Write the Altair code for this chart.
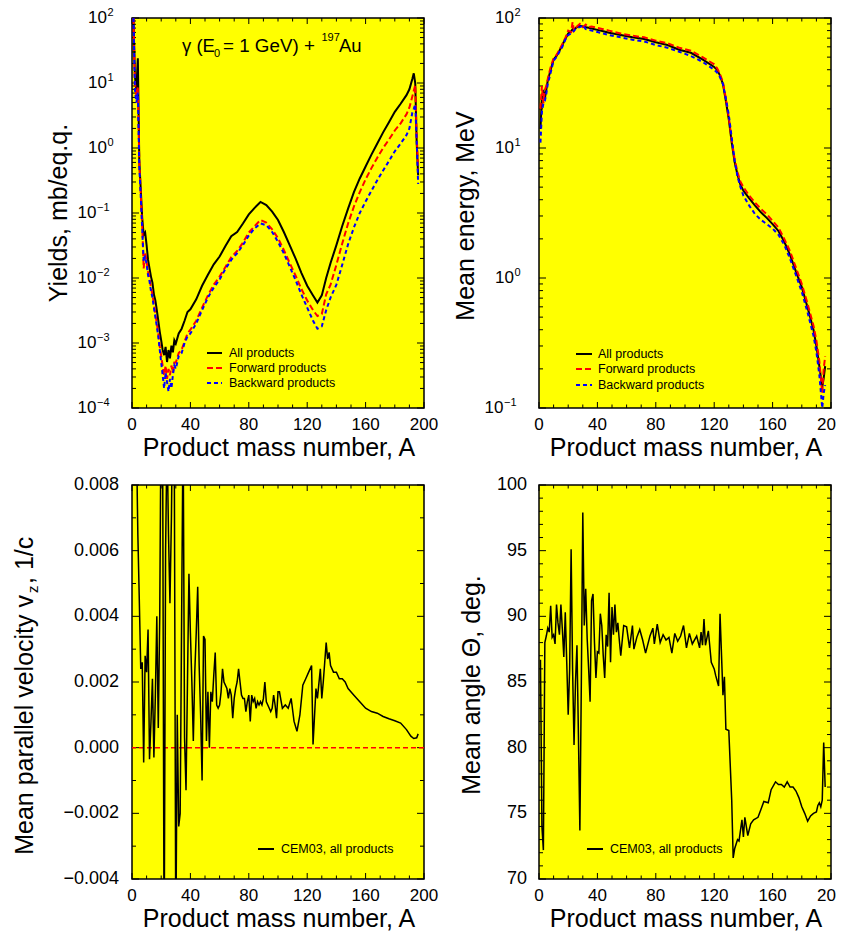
import altair as alt
import pandas as pd

FONT = "Liberation Sans"
W = 292
H_TOP, H_BOT = 390, 394

# ---------------- Panel 1: yields (mb/eq.q.) ----------------
A_YIELD = [1, 2, 3, 4, 5, 6, 7, 8, 9, 10, 11, 12, 13, 14, 15, 16, 17, 18, 19, 20,
           21, 22, 23, 24, 25, 26, 27, 28, 29, 30, 32, 34, 36, 38, 40,
           44, 48, 52, 56, 60, 64, 68, 72, 76, 80, 84, 88, 92, 96, 100, 104, 108, 112, 116, 120, 124,
           127, 130, 133, 136,
           140, 144, 148, 152, 156, 160, 164, 168, 172, 176, 180, 184, 188,
           190, 192, 193, 194, 195, 196]
YIELD_ALL = [100, 12.6, 7.9, 24, 0.63, 0.23, 0.083, 0.046, 0.050, 0.032,
             0.019, 0.014, 0.0105, 0.0085, 0.0056, 0.0045, 0.0032, 0.0022, 0.0015, 0.0011,
             0.00078, 0.00065, 0.00087, 0.00051, 0.00078, 0.00058, 0.00091, 0.00072, 0.0011, 0.00098,
             0.0014, 0.00166, 0.0022, 0.0030, 0.0033,
             0.0047, 0.0076, 0.0112, 0.0162, 0.0214, 0.031, 0.044, 0.051, 0.069, 0.095, 0.12, 0.148,
             0.132, 0.105, 0.078, 0.051, 0.032, 0.020, 0.012, 0.0076, 0.0054,
             0.0042, 0.0054, 0.010, 0.017,
             0.032, 0.063, 0.117, 0.21, 0.34, 0.52, 0.79, 1.17, 1.74, 2.5, 3.6, 4.8, 6.5,
             8.0, 11.5, 14.1, 10, 1.2, 0.38]
YIELD_FWD = [100, 10, 6.3, 8.9, 0.63, 0.2, 0.063, 0.014, 0.025, 0.018,
             0.0126, 0.010, 0.0071, 0.0056, 0.004, 0.0028, 0.002, 0.0014, 0.00089, 0.00063,
             0.00045, 0.00032, 0.00045, 0.00028, 0.0004, 0.00032, 0.00045, 0.00035, 0.0005, 0.0005,
             0.0007, 0.00079, 0.00105, 0.0014, 0.0016,
             0.0022, 0.0035, 0.0054, 0.0079, 0.0105, 0.0148, 0.021, 0.026, 0.035, 0.05, 0.063, 0.078,
             0.071, 0.056, 0.041, 0.027, 0.017, 0.011, 0.0068, 0.0045, 0.0032,
             0.0026, 0.0028, 0.0056, 0.0079,
             0.016, 0.034, 0.069, 0.126, 0.21, 0.33, 0.49, 0.71, 1.0, 1.35, 1.86, 2.4, 3.3,
             4.2, 6.2, 7.6, 9.3, 1.5, 0.48]
YIELD_BWD = [100, 7.9, 5, 7.1, 0.5, 0.18, 0.056, 0.018, 0.022, 0.016,
             0.011, 0.0089, 0.0063, 0.005, 0.0035, 0.0025, 0.0018, 0.00126, 0.00079, 0.0005,
             0.00032, 0.0002, 0.00035, 0.00025, 0.00018, 0.00028, 0.0002, 0.00032, 0.00045, 0.0004,
             0.00063, 0.0007, 0.001, 0.00126, 0.0014,
             0.002, 0.0032, 0.005, 0.0071, 0.0095, 0.0138, 0.019, 0.024, 0.032, 0.045, 0.058, 0.069,
             0.065, 0.051, 0.036, 0.024, 0.015, 0.0093, 0.0056, 0.0035, 0.0022,
             0.00166, 0.0018, 0.0032, 0.005,
             0.0079, 0.016, 0.033, 0.06, 0.1, 0.15, 0.22, 0.32, 0.45, 0.63, 0.89, 1.17, 1.58,
             2.0, 3.5, 4.0, 4.7, 1.26, 0.28]

# ---------------- Panel 2: mean energy (MeV) ----------------
A_ENERGY = [1, 2, 3, 4, 5, 6, 8, 10, 12, 14, 16, 18, 20, 22, 23, 24, 26, 28, 30, 32, 34, 36,
            40, 44, 48, 56, 64, 72, 80, 88, 96, 104, 112, 120,
            122, 124, 126, 128, 130, 132, 134, 136, 138, 140,
            144, 148, 152, 156, 160, 164, 168, 172, 176, 180, 184, 188,
            190, 192, 194, 195, 196]
ENERGY_ALL = [14, 25, 28, 24, 28, 33, 40, 48, 51, 56, 62, 69, 76, 79, 82, 82, 85, 87, 86, 85, 84, 83,
              81, 79, 77, 74, 71, 69, 65, 62, 57, 54, 48, 42,
              40, 36, 31, 23, 16.6, 11, 7.8, 6.2, 5.2, 4.7,
              4.1, 3.6, 3.2, 2.9, 2.6, 2.3, 1.9, 1.5, 1.12, 0.85, 0.59, 0.40,
              0.30, 0.21, 0.145, 0.17, 0.21]
ENERGY_FWD = [20, 30, 22, 28, 30, 34, 42, 49, 52, 57, 63, 70, 80, 78, 93, 80, 86, 90, 85, 89, 85, 86,
              84, 82, 80, 76, 73, 71, 67, 64, 59, 56, 50, 44,
              41, 37, 32, 24, 17, 11.5, 8.2, 6.5, 5.5, 5.0,
              4.3, 3.8, 3.4, 3.1, 2.75, 2.45, 2.0, 1.6, 1.2, 0.9, 0.63, 0.43,
              0.33, 0.23, 0.13, 0.2, 0.25]
ENERGY_BWD = [11, 19, 22, 23, 26, 31, 38, 47, 50, 55, 60, 68, 74, 76, 77, 80, 84, 85, 88, 82, 81, 80,
              78, 76, 74, 71, 68, 66, 62, 59, 55, 51, 46, 40,
              38, 35, 31, 24, 18, 12, 8, 6, 5, 4.3,
              3.6, 3.1, 2.8, 2.6, 2.4, 2.15, 1.8, 1.4, 1.05, 0.78, 0.54, 0.36,
              0.27, 0.18, 0.1, 0.13, 0.15]

# ---------------- Panel 3: mean parallel velocity (1/c) ----------------
A_VEL = [3, 4, 5, 6, 7, 8, 9, 10, 11, 12, 13, 14, 15, 16, 17, 18, 19, 20, 21, 22, 23, 24, 25, 26, 27,
         28, 29, 30, 31, 32, 33, 34, 35, 36, 37, 38, 39, 40, 41, 42, 43, 44, 45, 46, 47, 48, 49, 50,
         51, 52, 53, 54, 55, 56, 57, 58, 59, 60,
         61, 62, 63, 64, 65, 66, 67, 68, 69, 70, 71, 72, 73, 74, 75, 76, 77, 78, 79, 80,
         81, 82, 83, 84, 85, 86, 87, 88, 89, 90, 91, 92, 93, 94, 95, 96, 97, 98, 99, 100,
         101, 103, 105, 107, 109, 111, 113, 115, 117,
         119, 121, 123, 124, 126, 127, 129, 130, 131, 133,
         134, 135, 136, 138, 140, 142, 144, 146, 148, 152, 156, 160, 164, 168, 172, 176, 180, 184,
         188, 191, 193, 195, 196]
VELOCITY = [0.0095, 0.0065, 0.0045, 0.0024, 0.0026, -0.00045, 0.0028, 0.0023, 0.0036, -0.00035,
            0.0008, 0.0021, -0.0003, 0.0016, 0.0040, 0.0006, 0.0040, 0.0110, 0.0090, -0.0065,
            0.0060, 0.0095, 0.0065, 0.0044, 0.0070, 0.0110, 0.0085, -0.0060, 0.0010, -0.0024,
            -0.0020, 0.0040, 0.0100, 0.0003, -0.0013, 0.0020, 0.0053, 0.0035, 0.0020, 0.0002,
            0.0023, 0.0035, 0.0049, 0.0025, 0.0010, -0.0010, 0.0034, 0.0033, 0.0002, 0.0017,
            0.0000, 0.0017, 0.0014, 0.0022, 0.0029, 0.0013, 0.0012, 0.0013,
            # A = 61 .. 80
            0.0017, 0.0024, 0.0020, 0.0019, 0.0018, 0.0015, 0.0018, 0.0016, 0.0009, 0.0015,
            0.0018, 0.0020, 0.0024, 0.0020, 0.0016, 0.0015, 0.0015, 0.0011, 0.0014, 0.0016,
            # A = 81 .. 100
            0.0008, 0.0016, 0.0014, 0.0015, 0.0012, 0.0014, 0.0013, 0.0014, 0.0013, 0.0015,
            0.0020, 0.0014, 0.0013, 0.0012, 0.0011, 0.0012, 0.0016, 0.0013, 0.0009, 0.0017,
            # A = 101 .. 117
            0.0017, 0.0012, 0.0013, 0.0012, 0.0015, 0.0008, 0.0005, 0.0010, 0.0019,
            # A = 119 .. 133
            0.0021, 0.0023, 0.0025, 0.0001, 0.0018, 0.0015, 0.0024, 0.0015, 0.0020, 0.0032,
            # A = 134 .. 196
            0.0027, 0.0029, 0.0025, 0.0023, 0.0023, 0.0021, 0.0021, 0.0020, 0.0018, 0.0016,
            0.0014, 0.0012, 0.0011, 0.00105, 0.00095, 0.00088, 0.00082, 0.00075, 0.00055,
            0.00035, 0.00028, 0.00030, 0.00042]

# ---------------- Panel 4: mean angle (deg) ----------------
A_ANGLE = [1, 2, 3, 4, 5, 6, 7, 8, 9, 10, 11, 12, 13, 14, 15, 16, 17, 18, 19, 20, 21, 22, 23, 24,
           25, 26, 27, 28, 29, 30, 31, 32, 33, 34, 35, 36, 37, 38, 39, 40, 41, 42, 43, 44, 45, 46,
           47, 48, 49, 50, 51, 52, 53, 54, 55, 56, 58, 60, 62, 64, 65, 67, 69, 71, 73, 76, 78, 79,
           81, 83, 85, 87, 89, 91, 93, 95, 97, 99, 101, 103, 105, 108, 110, 111, 112, 113, 114,
           116, 118, 120, 121, 123, 124, 126, 127, 128, 130, 132, 133, 134, 136, 137, 139, 140,
           141, 143, 145, 147, 150, 152, 154, 157, 159, 162, 164, 166, 168, 170, 172, 174, 176,
           178, 180, 182, 184, 186, 188, 190, 191, 192, 193, 194, 195, 196]
ANGLE = [86.7, 74.0, 72.2, 88.0, 88.5, 89.1, 88.8, 90.8, 88.4, 88.6, 87.9, 90.9, 89.5, 88.6, 90.9,
         89.0, 86.9, 90.3, 86.5, 82.5, 86.0, 95.1, 86.0, 80.2, 85.0, 87.8, 81.0, 73.7, 85.0, 97.9,
         89.3, 92.1, 88.3, 86.0, 83.5, 91.2, 91.7, 88.0, 85.3, 87.3, 87.2, 90.2, 89.3, 87.0, 85.3,
         88.6, 87.7, 91.8, 86.5, 90.7, 88.6, 90.9, 88.8, 89.5, 88.2, 87.0, 89.3, 89.2, 87.6, 89.3,
         87.5, 88.4, 89.0, 88.2, 87.2, 88.5, 89.1, 87.9, 89.4, 88.0, 88.6, 88.2, 88.4, 87.2, 88.7,
         88.1, 88.5, 89.3, 87.6, 88.7, 87.9, 88.5, 87.6, 88.8, 87.8, 89.8, 87.8, 88.9, 86.5, 86.0,
         85.5, 84.7, 90.2, 84.0, 85.4, 81.4, 81.3, 76.0, 71.6, 72.3, 73.0, 72.9, 74.5, 73.2, 74.7,
         73.3, 74.2, 74.5, 74.7, 75.3, 75.9, 75.8, 76.8, 77.4, 77.2, 77.2, 77.0, 77.4, 77.0, 77.0,
         76.7, 76.2, 75.5, 75.0, 74.4, 74.8, 75.0, 75.1, 75.6, 75.8, 75.5, 76.0, 80.4, 77.0]

# ---------------- axes / ticks ----------------
X_LABELS = [0, 40, 80, 120, 160, 200]
X_MAJOR = [0, 40, 80, 120, 160, 200]
X_MINOR = [10, 20, 30, 50, 60, 70, 90, 100, 110, 130, 140, 150, 170, 180, 190]
YIELD_EXP = [2, 1, 0, -1, -2, -3, -4]
ENERGY_EXP = [2, 1, 0, -1]
VEL_LABELS = [0.008, 0.006, 0.004, 0.002, 0.0, -0.002, -0.004]
VEL_TEXT = ["0.008", "0.006", "0.004", "0.002", "0.000", "\u22120.002", "\u22120.004"]
VEL_MINOR = [0.007, 0.005, 0.003, 0.001, -0.001, -0.003]
ANG_LABELS = [100, 95, 90, 85, 80, 75, 70]
ANG_MINOR = [v for v in range(71, 100) if v % 5]

XS = alt.Scale(domain=[0, 200], nice=False, zero=False)


def one_row():
    return pd.DataFrame({"d": [0]})


def log_minor(lo, hi):
    return [k * 10.0 ** d for d in range(lo, hi) for k in range(2, 10)]


def tick_layers(ys, ymaj, ymin, h):
    out = []
    for vals, L in ((X_MAJOR, 6), (X_MINOR, 3.5)):
        base = alt.Chart(pd.DataFrame({"t": vals})).mark_rule(color="black", strokeWidth=1)
        xe = alt.X("t:Q", scale=XS, axis=None)
        out.append(base.encode(x=xe, y=alt.value(h), y2=alt.value(h - L)))
        out.append(base.encode(x=xe, y=alt.value(0), y2=alt.value(L)))
    for vals, L in ((ymaj, 7), (ymin, 4)):
        base = alt.Chart(pd.DataFrame({"t": vals})).mark_rule(color="black", strokeWidth=1)
        ye = alt.Y("t:Q", scale=ys, axis=None)
        out.append(base.encode(y=ye, x=alt.value(0), x2=alt.value(L)))
        out.append(base.encode(y=ye, x=alt.value(W), x2=alt.value(W - L)))
    return out


def xaxis_layers(h, cut_last=False):
    labs = X_LABELS[:-1] if cut_last else X_LABELS
    df = pd.DataFrame({"t": labs, "s": [str(v) for v in labs]})
    out = [alt.Chart(df).mark_text(font=FONT, fontSize=17, baseline="alphabetic", align="center").encode(
        x=alt.X("t:Q", scale=XS, axis=None), y=alt.value(h + 22), text="s:N")]
    if cut_last:
        # the last label is cut by the right edge of the figure in the original
        out.append(alt.Chart(one_row()).mark_text(
            font=FONT, fontSize=17, baseline="alphabetic", align="left", limit=20, ellipsis="\u200b",
            text=str(X_LABELS[-1])).encode(x=alt.value(W - 14), y=alt.value(h + 22)))
    out.append(alt.Chart(one_row()).mark_text(
        font=FONT, fontSize=25, baseline="alphabetic", align="center",
        text="Product mass number, A").encode(x=alt.value(W / 2 + 1), y=alt.value(h + 48)))
    return out


def log_label_layers(ys, exps):
    out = []
    groups = (([e for e in exps if e >= 0], -25.0), ([e for e in exps if e < 0], -35.5))
    for group, xr in groups:
        df = pd.DataFrame({"v": [10.0 ** e for e in group],
                           "e": [str(e).replace("-", "\u2212") for e in group]})
        ye = alt.Y("v:Q", scale=ys, axis=None)
        out.append(alt.Chart(df).mark_text(font=FONT, fontSize=17, align="right", baseline="middle",
                                           text="10").encode(y=ye, x=alt.value(xr)))
        out.append(alt.Chart(df).mark_text(font=FONT, fontSize=11, align="left", baseline="middle",
                                           dy=-5).encode(y=ye, x=alt.value(xr + 0.5), text="e:N"))
    return out


def lin_label_layers(ys, vals, texts, xr):
    df = pd.DataFrame({"v": vals, "s": texts})
    return [alt.Chart(df).mark_text(font=FONT, fontSize=18, align="right", baseline="middle").encode(
        y=alt.Y("v:Q", scale=ys, axis=None), x=alt.value(xr), text="s:N")]


def text_layer(txt, x, y, size, angle=0, align="left"):
    kw = dict(font=FONT, fontSize=size, align=align, baseline="alphabetic", text=txt)
    if angle:
        kw["angle"] = angle
    return alt.Chart(one_row()).mark_text(**kw).encode(x=alt.value(x), y=alt.value(y))


def legend_layers(items, x0, x1, xt, rows):
    out = []
    for (label, color, dash), y in zip(items, rows):
        kw = dict(color=color, strokeWidth=2)
        if dash:
            kw["strokeDash"] = dash
        out.append(alt.Chart(one_row()).mark_rule(**kw).encode(
            x=alt.value(x0), x2=alt.value(x1), y=alt.value(y)))
        out.append(alt.Chart(one_row()).mark_text(font=FONT, fontSize=12.5, align="left",
                                                  baseline="middle", text=label).encode(
            x=alt.value(xt), y=alt.value(y)))
    return out


def series(A, V, ys, color, width, dash=None):
    kw = dict(color=color, strokeWidth=width, clip=True)
    if dash:
        kw["strokeDash"] = dash
    return alt.Chart(pd.DataFrame({"A": A, "v": V})).mark_line(**kw).encode(
        x=alt.X("A:Q", scale=XS, axis=None), y=alt.Y("v:Q", scale=ys, axis=None))


RED_DASH = [6, 3]
BLUE_DASH = [4, 3]
LEG3 = [("All products", "black", None), ("Forward products", "#ff0000", RED_DASH),
        ("Backward products", "#0000ff", BLUE_DASH)]

# ---- panel 1
h = H_TOP
ys1 = alt.Scale(type="log", domain=[1e-4, 100], nice=False)
p1_layers = tick_layers(ys1, [10.0 ** e for e in YIELD_EXP], log_minor(-4, 2), h)
p1_layers += [series(A_YIELD, YIELD_ALL, ys1, "black", 2),
              series(A_YIELD, YIELD_FWD, ys1, "#ff0000", 2, RED_DASH),
              series(A_YIELD, YIELD_BWD, ys1, "#0000ff", 2, BLUE_DASH)]
p1_layers += xaxis_layers(h) + log_label_layers(ys1, YIELD_EXP)
p1_layers += [text_layer("Yields, mb/eq.q.", -65, 195, 25, angle=270, align="center")]
p1_layers += [text_layer("\u03b3 (E", 50, 34, 18.5), text_layer("0", 82, 39, 11),
              text_layer("= 1 GeV) +", 91, 34, 18.8), text_layer("197", 189.5, 23, 11),
              text_layer("Au", 207, 34, 18.5)]
p1_layers += legend_layers(LEG3, 75, 90, 97, [335, 350, 365])
p1 = alt.layer(*p1_layers).properties(width=W, height=h)

# ---- panel 2
ys2 = alt.Scale(type="log", domain=[0.1, 100], nice=False)
p2_layers = tick_layers(ys2, [10.0 ** e for e in ENERGY_EXP], log_minor(-1, 2), h)
p2_layers += [series(A_ENERGY, ENERGY_ALL, ys2, "black", 2),
              series(A_ENERGY, ENERGY_FWD, ys2, "#ff0000", 2, RED_DASH),
              series(A_ENERGY, ENERGY_BWD, ys2, "#0000ff", 2, BLUE_DASH)]
p2_layers += xaxis_layers(h, cut_last=True) + log_label_layers(ys2, ENERGY_EXP)
p2_layers += [text_layer("Mean energy, MeV", -65, 198, 25, angle=270, align="center")]
p2_layers += legend_layers(LEG3, 37, 53, 59, [336, 351, 367])
p2 = alt.layer(*p2_layers).properties(width=W, height=h)

# ---- panel 3
h = H_BOT
ys3 = alt.Scale(domain=[-0.004, 0.008], nice=False, zero=False)
p3_layers = tick_layers(ys3, VEL_LABELS, VEL_MINOR, h)
p3_layers += [alt.Chart(pd.DataFrame({"z": [0.0]})).mark_rule(color="#ff0000", strokeWidth=1.5,
                                                               strokeDash=[5, 3]).encode(
    y=alt.Y("z:Q", scale=ys3, axis=None))]
p3_layers += [series(A_VEL, VELOCITY, ys3, "black", 1.5)]
p3_layers += xaxis_layers(h) + lin_label_layers(ys3, VEL_LABELS, VEL_TEXT, -13)
p3_layers += [text_layer("Mean parallel velocity v", -99, 110, 25, angle=270, align="right"),
              text_layer("z", -94, 108, 15, angle=270),
              text_layer(", 1/c", -99, 99, 25, angle=270)]
p3_layers += legend_layers([("CEM03, all products", "black", None)], 126, 142, 149, [364])
p3 = alt.layer(*p3_layers).properties(width=W, height=h)

# ---- panel 4
ys4 = alt.Scale(domain=[70, 100], nice=False, zero=False)
p4_layers = tick_layers(ys4, ANG_LABELS, ANG_MINOR, h)
p4_layers += [series(A_ANGLE, ANGLE, ys4, "black", 1.5)]
p4_layers += xaxis_layers(h, cut_last=True) + lin_label_layers(ys4, ANG_LABELS, [str(v) for v in ANG_LABELS], -12)
p4_layers += [text_layer("Mean angle \u0398, deg.", -59, 200, 25, angle=270, align="center")]
p4_layers += legend_layers([("CEM03, all products", "black", None)], 48, 64, 71, [364])
p4 = alt.layer(*p4_layers).properties(width=W, height=h)

chart = alt.concat(p1, p2, p3, p4, columns=2, spacing={"row": 13, "column": 14}).properties(
    padding={"left": 4, "top": -2, "right": 0, "bottom": 0}
).configure_view(stroke="black", strokeWidth=1.5, fill="#ffff00")

chart.save("out.html", embed_options={"renderer": "svg", "actions": False})
